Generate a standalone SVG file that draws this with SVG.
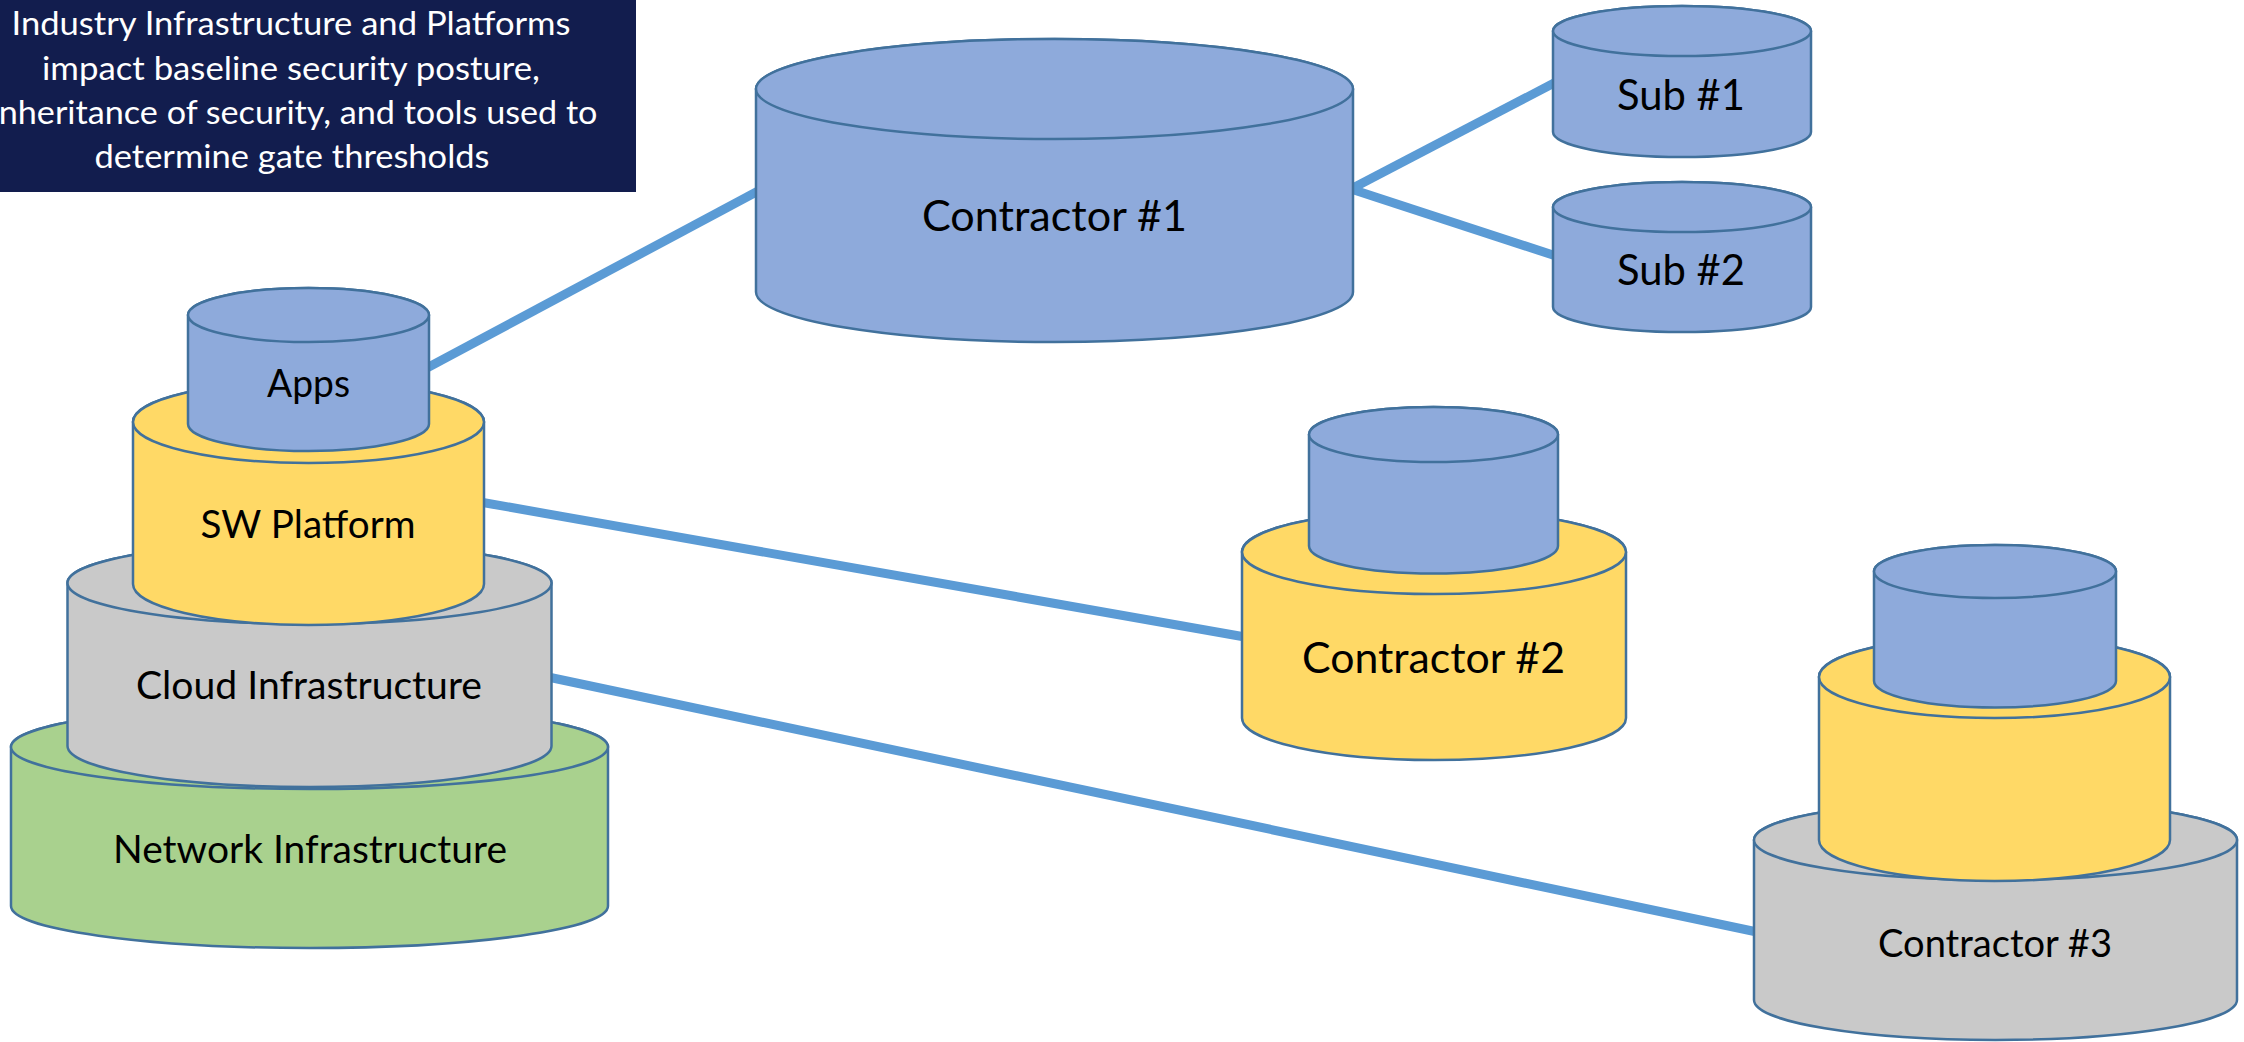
<svg xmlns="http://www.w3.org/2000/svg" width="2244" height="1042" viewBox="0 0 2244 1042">
<style>
.cyl{stroke:#41719C;stroke-width:2.5;stroke-linejoin:round}
.blue{fill:#8EAADB}
.yellow{fill:#FFD966}
.grey{fill:#C9C9C9}
.green{fill:#A9D18E}
.lbl{font-family:Lato,"Open Sans","Liberation Sans",sans-serif;fill:#000;text-anchor:middle}
.title{font-family:Lato,"Open Sans","Liberation Sans",sans-serif;fill:#fff;text-anchor:middle;font-size:32px}
.conn{stroke:#5B9BD5;stroke-width:9;fill:none}
</style>
<rect width="2244" height="1042" fill="#fff"/>
<g id="connectors">
<line class="conn" x1="425" y1="369" x2="760" y2="190"/>
<line class="conn" x1="1351" y1="189" x2="1556" y2="82"/>
<line class="conn" x1="1351" y1="189" x2="1556" y2="256"/>
<line class="conn" x1="480" y1="502" x2="1245" y2="637"/>
<line class="conn" x1="548" y1="677" x2="1757" y2="932"/>
</g>
<g id="title-box">
<rect x="-5" y="-5" width="641" height="197" fill="#121D4E"/>
<text class="title" x="291" y="35" textLength="559" lengthAdjust="spacingAndGlyphs">Industry Infrastructure and Platforms</text>
<text class="title" x="291" y="80" textLength="498" lengthAdjust="spacingAndGlyphs">impact baseline security posture,</text>
<text class="title" x="294" y="124" textLength="607" lengthAdjust="spacingAndGlyphs">inheritance of security, and tools used to</text>
<text class="title" x="292" y="168" textLength="395" lengthAdjust="spacingAndGlyphs">determine gate thresholds</text>
</g>
<g id="network-infrastructure">
<path class="cyl green" d="M11,747 A298.5,42 0 0 1 608,747 L608,906 A298.5,42 0 0 1 11,906 Z"/>
<ellipse class="cyl green" cx="309.5" cy="747" rx="298.5" ry="42"/>
<text class="lbl" x="310" y="863" font-size="38" textLength="394" lengthAdjust="spacingAndGlyphs">Network Infrastructure</text>
</g>
<g id="cloud-infrastructure">
<path class="cyl grey" d="M67.5,583 A242,41 0 0 1 551.5,583 L551.5,746 A242,41 0 0 1 67.5,746 Z"/>
<ellipse class="cyl grey" cx="309.5" cy="583" rx="242" ry="41"/>
<text class="lbl" x="309" y="699" font-size="38" textLength="346" lengthAdjust="spacingAndGlyphs">Cloud Infrastructure</text>
</g>
<g id="sw-platform">
<path class="cyl yellow" d="M133,422 A175.5,41 0 0 1 484,422 L484,584 A175.5,41 0 0 1 133,584 Z"/>
<ellipse class="cyl yellow" cx="308.5" cy="422" rx="175.5" ry="41"/>
<text class="lbl" x="308" y="538" font-size="38" textLength="215" lengthAdjust="spacingAndGlyphs">SW Platform</text>
</g>
<g id="apps">
<path class="cyl blue" d="M188,315 A120.5,27 0 0 1 429,315 L429,424 A120.5,27 0 0 1 188,424 Z"/>
<ellipse class="cyl blue" cx="308.5" cy="315" rx="120.5" ry="27"/>
<text class="lbl" x="308.5" y="397" font-size="38" textLength="83" lengthAdjust="spacingAndGlyphs">Apps</text>
</g>
<g id="contractor-1">
<path class="cyl blue" d="M756,89 A298.5,50 0 0 1 1353,89 L1353,292 A298.5,50 0 0 1 756,292 Z"/>
<ellipse class="cyl blue" cx="1054.5" cy="89" rx="298.5" ry="50"/>
<text class="lbl" x="1054.5" y="231" font-size="42" textLength="265" lengthAdjust="spacingAndGlyphs">Contractor #1</text>
</g>
<g id="sub-1">
<path class="cyl blue" d="M1553,31 A129,25 0 0 1 1811,31 L1811,132 A129,25 0 0 1 1553,132 Z"/>
<ellipse class="cyl blue" cx="1682" cy="31" rx="129" ry="25"/>
<text class="lbl" x="1681" y="110" font-size="42" textLength="128" lengthAdjust="spacingAndGlyphs">Sub #1</text>
</g>
<g id="sub-2">
<path class="cyl blue" d="M1553,207 A129,25 0 0 1 1811,207 L1811,307 A129,25 0 0 1 1553,307 Z"/>
<ellipse class="cyl blue" cx="1682" cy="207" rx="129" ry="25"/>
<text class="lbl" x="1681" y="285" font-size="42" textLength="128" lengthAdjust="spacingAndGlyphs">Sub #2</text>
</g>
<g id="contractor-2">
<path class="cyl yellow" d="M1242,552 A192,42 0 0 1 1626,552 L1626,718 A192,42 0 0 1 1242,718 Z"/>
<ellipse class="cyl yellow" cx="1434" cy="552" rx="192" ry="42"/>
<path class="cyl blue" d="M1309,434.5 A124.5,27.5 0 0 1 1558,434.5 L1558,546 A124.5,27.5 0 0 1 1309,546 Z"/>
<ellipse class="cyl blue" cx="1433.5" cy="434.5" rx="124.5" ry="27.5"/>
<text class="lbl" x="1433.5" y="673" font-size="42" textLength="263" lengthAdjust="spacingAndGlyphs">Contractor #2</text>
</g>
<g id="contractor-3">
<path class="cyl grey" d="M1754,840 A241.5,40 0 0 1 2237,840 L2237,1000 A241.5,40 0 0 1 1754,1000 Z"/>
<ellipse class="cyl grey" cx="1995.5" cy="840" rx="241.5" ry="40"/>
<path class="cyl yellow" d="M1819,677 A175.5,41 0 0 1 2170,677 L2170,840 A175.5,41 0 0 1 1819,840 Z"/>
<ellipse class="cyl yellow" cx="1994.5" cy="677" rx="175.5" ry="41"/>
<path class="cyl blue" d="M1874,571.5 A121,26.5 0 0 1 2116,571.5 L2116,681 A121,26.5 0 0 1 1874,681 Z"/>
<ellipse class="cyl blue" cx="1995" cy="571.5" rx="121" ry="26.5"/>
<text class="lbl" x="1995" y="957" font-size="38" textLength="234" lengthAdjust="spacingAndGlyphs">Contractor #3</text>
</g>
</svg>
